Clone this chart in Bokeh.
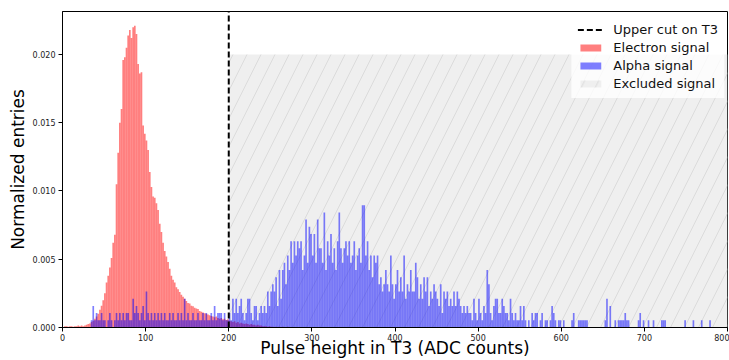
import numpy as np
from bokeh.plotting import figure
from bokeh.models import (ColumnDataSource, Legend, LegendItem, FixedTicker,
                          PrintfTickFormatter, Range1d)
from bokeh.embed import file_html
from bokeh.resources import INLINE

# ---------------- data ----------------
bin_width = 2
x_min, x_max = 0, 800
y_max = 0.02315

# electron signal, normalized entries (x 1e-3), bins of width 2 starting at 0
electron_start = 0
electron_e3 = [
    0.0, 0.1, 0.1, 0.05, 0.1, 0.1, 0.05, 0.1, 0.1, 0.15,     # 0-18
    0.1, 0.15, 0.1, 0.15, 0.2, 0.25, 0.3, 0.4, 0.5, 0.65,     # 20-38
    0.8, 1.0, 1.3, 1.6, 2.0, 2.5, 3.3, 3.8, 4.4, 5.1,         # 40-58
    6.2, 6.8, 10.5, 12.8, 15.0, 16.0, 19.6, 19.8, 20.5, 21.4, # 60-78
    21.8, 21.2, 22.0, 22.1, 21.5, 19.3, 18.6, 18.7, 14.8, 14.2,  # 80-98
    13.7, 13.0, 11.4, 10.3, 9.6, 9.5, 9.1, 8.6, 7.6, 7.0,     # 100-118
    6.2, 5.6, 5.2, 4.8, 4.3, 3.8, 3.5, 3.3, 2.95, 2.8,        # 120-138
    2.6, 2.4, 2.25, 2.1, 1.95, 1.8, 1.75, 1.6, 1.55, 1.45,    # 140-158
    1.4, 1.35, 1.2, 1.15, 1.1, 1.05, 1.0, 0.95, 0.9, 0.85,    # 160-178
    0.8, 0.75, 0.8, 0.7, 0.65, 0.7, 0.6, 0.65, 0.55, 0.6,     # 180-198
    0.5, 0.45, 0.4, 0.45, 0.35, 0.4, 0.3, 0.35, 0.3, 0.25,    # 200-218
    0.3, 0.25, 0.2, 0.25, 0.2, 0.2, 0.15, 0.2, 0.15, 0.15,    # 220-238
    0.1, 0.1, 0.1, 0.05, 0.1, 0.05, 0.05, 0.0, 0.05, 0.0,     # 240-258
    0.05, 0.0, 0.05, 0.0, 0.0, 0.05, 0.0, 0.0, 0.0, 0.0,      # 260-278
]

# alpha signal, entry counts per bin (width 2) starting at 30; one entry = alpha_unit
alpha_start = 30
alpha_unit = 0.000527
alpha_counts = [
    0, 0, 1, 3, 1, 2, 1, 1, 2, 1,        # 30-48
    1, 0, 1, 2, 1, 0, 1, 2, 1, 2,        # 50-68
    1, 2, 1, 2, 2, 1, 1, 4, 2, 3,        # 70-88
    2, 1, 2, 3, 1, 5, 2, 1, 2, 1,        # 90-108
    2, 1, 2, 1, 2, 1, 2, 1, 1, 2,        # 110-128
    1, 2, 1, 1, 2, 1, 2, 1, 4, 1,        # 130-148
    2, 1, 1, 2, 1, 1, 2, 1, 1, 2,        # 150-168
    1, 2, 1, 1, 2, 1, 3, 1, 2, 2,        # 170-188
    2, 1, 2, 1, 1, 2, 1, 4, 2, 4,        # 190-208
    2, 3, 4, 2, 1, 2, 4, 4, 2, 1,        # 210-228
    3, 3, 1, 2, 3, 2, 3, 2, 5, 3,        # 230-248
    5, 6, 5, 7, 3, 8, 4, 8, 9, 6,        # 250-268
    10, 8, 12, 9, 12, 10, 12, 11, 12, 8, # 270-288
    10, 15, 9, 14, 13, 10, 13, 9, 15, 11,  # 290-308
    11, 9, 16, 8, 12, 10, 13, 9, 11, 8,  # 310-328
    12, 16, 11, 9, 11, 12, 10, 12, 9, 10,  # 330-348
    12, 8, 10, 11, 9, 17, 17, 10, 12, 8,  # 350-368
    10, 7, 10, 9, 10, 6, 7, 5, 6, 8,     # 370-388
    6, 5, 10, 6, 4, 6, 8, 5, 7, 5,       # 390-408
    10, 4, 6, 5, 8, 5, 5, 9, 7, 4,       # 410-428
    6, 4, 7, 5, 7, 3, 5, 4, 6, 5,        # 430-448
    4, 3, 6, 2, 5, 4, 5, 3, 4, 3,        # 450-468
    5, 3, 5, 4, 3, 2, 3, 2, 3, 2,        # 470-488
    2, 1, 4, 2, 1, 4, 2, 1, 3, 2,        # 490-508
    8, 6, 2, 1, 3, 4, 4, 2, 2, 4,        # 510-528
    3, 2, 2, 1, 4, 2, 1, 2, 1, 1,        # 530-548
    3, 1, 3, 1, 0, 1, 0, 2, 1, 2,        # 550-568
    2, 0, 1, 2, 0, 1, 1, 0, 1, 3,        # 570-588
    2, 1, 0, 1, 1, 0, 1, 0, 0, 0,        # 590-608
    0, 1, 2, 0, 0, 1, 1, 1, 1, 1,        # 610-628
    1, 0, 0, 0, 0, 0, 0, 0, 0, 0,        # 630-648
    0, 1, 4, 0, 3, 0, 0, 1, 0, 1,        # 650-668
    1, 1, 1, 2, 1, 1, 0, 0, 0, 0,        # 670-688
    0, 1, 2, 0, 1, 0, 0, 1, 0, 0,        # 690-708
    1, 0, 0, 0, 0, 1, 1, 1, 0, 0,        # 710-728
    0, 0, 0, 0, 0, 0, 0, 0, 0, 1,        # 730-748
    0, 0, 0, 0, 1, 0, 0, 0, 0, 1,        # 750-768
    0, 0, 0, 0, 1, 0, 0, 0, 0, 0,        # 770-788
    0, 0, 0, 0, 0,                       # 790-798
]

cut_value = 200
excluded_top = 0.020
x_ticks = [0, 100, 200, 300, 400, 500, 600, 700, 800]
y_ticks = [0.000, 0.005, 0.010, 0.015, 0.020]

# ---------------- sources ----------------
e_left = electron_start + bin_width * np.arange(len(electron_e3))
e_src = ColumnDataSource(dict(left=e_left, right=e_left + bin_width,
                              top=np.array(electron_e3) * 1e-3,
                              bottom=np.zeros(len(electron_e3))))
a_left = alpha_start + bin_width * np.arange(len(alpha_counts))
a_src = ColumnDataSource(dict(left=a_left, right=a_left + bin_width,
                              top=np.array(alpha_counts) * alpha_unit,
                              bottom=np.zeros(len(alpha_counts))))

FONT = "DejaVu Sans"

p = figure(width=729, height=360, output_backend="svg", toolbar_location=None,
           x_range=Range1d(x_min, x_max), y_range=Range1d(0, y_max),
           min_border_left=62, min_border_right=2, min_border_top=11,
           min_border_bottom=33)
p.background_fill_color = "white"
p.border_fill_color = "white"
p.outline_line_color = "black"
p.outline_line_width = 1
p.grid.visible = False

# excluded region
excl = p.quad(left=[cut_value], right=[x_max], bottom=[0], top=[excluded_top],
              fill_color="#efefef", line_color=None,
              hatch_pattern="/", hatch_color="#d6d6d6", hatch_scale=28,
              hatch_weight=0.8)

elec = p.quad(left="left", right="right", top="top", bottom="bottom", source=e_src,
              fill_color="red", fill_alpha=0.5, line_color=None)
alph = p.quad(left="left", right="right", top="top", bottom="bottom", source=a_src,
              fill_color="blue", fill_alpha=0.5, line_color=None)

cut = p.segment(x0=[cut_value], y0=[0], x1=[cut_value], y1=[y_max],
                line_color="black", line_width=2, line_dash="6 3")

legend = Legend(items=[
    LegendItem(label="Upper cut on T3", renderers=[cut]),
    LegendItem(label="Electron signal", renderers=[elec]),
    LegendItem(label="Alpha signal", renderers=[alph]),
    LegendItem(label="Excluded signal", renderers=[excl]),
], location="top_right")
legend.label_text_font = FONT
legend.label_text_font_size = "13px"
legend.label_text_color = "#111111"
legend.glyph_width = 26
legend.glyph_height = 9
legend.label_height = 18
legend.label_standoff = 10
legend.spacing = 0
legend.padding = 6
legend.margin = 3
legend.background_fill_color = "white"
legend.background_fill_alpha = 0.8
legend.border_line_alpha = 0
p.add_layout(legend)

# axes
for ax in (p.xaxis, p.yaxis):
    ax.axis_line_color = "black"
    ax.major_tick_line_color = "black"
    ax.minor_tick_line_color = None
    ax.major_tick_in = 0
    ax.major_tick_out = 4
    ax.major_label_text_font = FONT
    ax.major_label_text_font_size = "8px"
    ax.major_label_text_color = "#222222"
    ax.axis_label_text_font = FONT
    ax.axis_label_text_font_size = "17px"
    ax.axis_label_text_font_style = "normal"
    ax.axis_label_text_color = "black"

p.xaxis.ticker = FixedTicker(ticks=x_ticks)
p.yaxis.ticker = FixedTicker(ticks=y_ticks)
p.yaxis.formatter = PrintfTickFormatter(format="%.3f")
p.xaxis.axis_label = "Pulse height in T3 (ADC counts)"
p.yaxis.axis_label = "Normalized entries"
p.xaxis.major_label_standoff = 2
p.xaxis.axis_label_standoff = -6
p.yaxis.major_label_standoff = 3
p.yaxis.axis_label_standoff = 2

open("out.html", "w").write(file_html(p, INLINE))
